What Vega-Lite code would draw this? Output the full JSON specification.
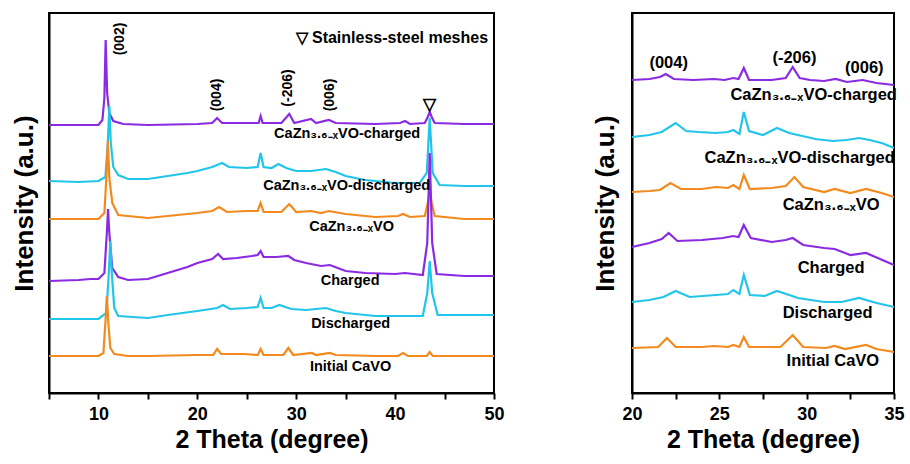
{
 "$schema": "https://vega.github.io/schema/vega-lite/v6.json",
 "padding": {"left": 10, "top": 12, "right": 12, "bottom": 4},
 "spacing": 85,
 "config": {
  "font": "Liberation Sans",
  "view": {"stroke": "black", "strokeWidth": 2},
  "axis": {"grid": false, "domainColor": "black", "domainWidth": 2, "tickColor": "black", "tickWidth": 2, "tickSize": 6,
   "labelFont": "Liberation Sans", "labelFontWeight": "bold", "labelFontSize": 18, "labelColor": "black",
   "titleFont": "Liberation Sans", "titleFontWeight": "bold", "titleColor": "black", "labelFlush": false, "labelOverlap": false},
  "text": {"font": "Liberation Sans", "fontWeight": "bold", "color": "black"}
 },
 "datasets": {
  "left": [
   {"s":"CaZn-charged","x":5,"y":268},{"s":"CaZn-charged","x":8,"y":268},{"s":"CaZn-charged","x":10,"y":268},{"s":"CaZn-charged","x":10.4,"y":273},{"s":"CaZn-charged","x":10.6,"y":295},{"s":"CaZn-charged","x":10.73,"y":353},{"s":"CaZn-charged","x":10.88,"y":300},{"s":"CaZn-charged","x":11.1,"y":280},{"s":"CaZn-charged","x":11.5,"y":272},{"s":"CaZn-charged","x":12.5,"y":269},{"s":"CaZn-charged","x":15,"y":268},{"s":"CaZn-charged","x":20,"y":269},{"s":"CaZn-charged","x":21.5,"y":270},{"s":"CaZn-charged","x":22,"y":275},{"s":"CaZn-charged","x":22.5,"y":270},{"s":"CaZn-charged","x":25,"y":270},{"s":"CaZn-charged","x":26.2,"y":270},{"s":"CaZn-charged","x":26.4,"y":277},{"s":"CaZn-charged","x":26.6,"y":270},{"s":"CaZn-charged","x":28.5,"y":270},{"s":"CaZn-charged","x":29.3,"y":279},{"s":"CaZn-charged","x":29.8,"y":270},{"s":"CaZn-charged","x":31.5,"y":274},{"s":"CaZn-charged","x":32,"y":270},{"s":"CaZn-charged","x":33.3,"y":273},{"s":"CaZn-charged","x":34,"y":270},{"s":"CaZn-charged","x":38,"y":269},{"s":"CaZn-charged","x":40.5,"y":270},{"s":"CaZn-charged","x":41,"y":272},{"s":"CaZn-charged","x":41.5,"y":269},{"s":"CaZn-charged","x":43,"y":270},{"s":"CaZn-charged","x":43.3,"y":276},{"s":"CaZn-charged","x":43.5,"y":281},{"s":"CaZn-charged","x":43.7,"y":276},{"s":"CaZn-charged","x":44,"y":270},{"s":"CaZn-charged","x":47,"y":269},{"s":"CaZn-charged","x":50,"y":269},

   {"s":"CaZn-discharged","x":5,"y":212},{"s":"CaZn-discharged","x":8,"y":211},{"s":"CaZn-discharged","x":10,"y":212},{"s":"CaZn-discharged","x":10.7,"y":216},{"s":"CaZn-discharged","x":10.95,"y":250},{"s":"CaZn-discharged","x":11.1,"y":287},{"s":"CaZn-discharged","x":11.25,"y":250},{"s":"CaZn-discharged","x":11.5,"y":226},{"s":"CaZn-discharged","x":12,"y":218},{"s":"CaZn-discharged","x":13,"y":214},{"s":"CaZn-discharged","x":15,"y":214},{"s":"CaZn-discharged","x":17,"y":217},{"s":"CaZn-discharged","x":19,"y":220},{"s":"CaZn-discharged","x":20,"y":222},{"s":"CaZn-discharged","x":21.5,"y":226},{"s":"CaZn-discharged","x":22.5,"y":230},{"s":"CaZn-discharged","x":23.2,"y":226},{"s":"CaZn-discharged","x":25,"y":225},{"s":"CaZn-discharged","x":26.1,"y":226},{"s":"CaZn-discharged","x":26.4,"y":240},{"s":"CaZn-discharged","x":26.7,"y":226},{"s":"CaZn-discharged","x":27.5,"y":225},{"s":"CaZn-discharged","x":28.2,"y":229},{"s":"CaZn-discharged","x":29,"y":225},{"s":"CaZn-discharged","x":30,"y":222},{"s":"CaZn-discharged","x":31.5,"y":222},{"s":"CaZn-discharged","x":33,"y":224},{"s":"CaZn-discharged","x":34,"y":221},{"s":"CaZn-discharged","x":35,"y":217},{"s":"CaZn-discharged","x":37,"y":213},{"s":"CaZn-discharged","x":40,"y":210},{"s":"CaZn-discharged","x":42.5,"y":210},{"s":"CaZn-discharged","x":43.2,"y":220},{"s":"CaZn-discharged","x":43.5,"y":275},{"s":"CaZn-discharged","x":43.8,"y":220},{"s":"CaZn-discharged","x":44.5,"y":208},{"s":"CaZn-discharged","x":47,"y":207},{"s":"CaZn-discharged","x":50,"y":207},

   {"s":"CaZn","x":5,"y":174},{"s":"CaZn","x":8,"y":174},{"s":"CaZn","x":10,"y":174},{"s":"CaZn","x":10.6,"y":180},{"s":"CaZn","x":10.8,"y":215},{"s":"CaZn","x":10.95,"y":252},{"s":"CaZn","x":11.1,"y":215},{"s":"CaZn","x":11.4,"y":190},{"s":"CaZn","x":12,"y":178},{"s":"CaZn","x":15,"y":175},{"s":"CaZn","x":18,"y":178},{"s":"CaZn","x":20,"y":180},{"s":"CaZn","x":21.5,"y":182},{"s":"CaZn","x":22.2,"y":186},{"s":"CaZn","x":23,"y":181},{"s":"CaZn","x":25,"y":182},{"s":"CaZn","x":26.1,"y":182},{"s":"CaZn","x":26.4,"y":190},{"s":"CaZn","x":26.7,"y":181},{"s":"CaZn","x":28.5,"y":181},{"s":"CaZn","x":29.3,"y":189},{"s":"CaZn","x":30,"y":181},{"s":"CaZn","x":31.5,"y":182},{"s":"CaZn","x":32.5,"y":180},{"s":"CaZn","x":33.3,"y":182},{"s":"CaZn","x":35,"y":179},{"s":"CaZn","x":38,"y":176},{"s":"CaZn","x":40.3,"y":177},{"s":"CaZn","x":40.8,"y":179},{"s":"CaZn","x":41.5,"y":176},{"s":"CaZn","x":43,"y":177},{"s":"CaZn","x":43.3,"y":190},{"s":"CaZn","x":43.5,"y":202},{"s":"CaZn","x":43.7,"y":190},{"s":"CaZn","x":44,"y":177},{"s":"CaZn","x":47,"y":174},{"s":"CaZn","x":50,"y":174},

   {"s":"Charged","x":5,"y":112},{"s":"Charged","x":8,"y":113},{"s":"Charged","x":9.2,"y":114},{"s":"Charged","x":10,"y":114},{"s":"Charged","x":10.6,"y":120},{"s":"Charged","x":10.85,"y":160},{"s":"Charged","x":10.97,"y":184},{"s":"Charged","x":11.1,"y":160},{"s":"Charged","x":11.4,"y":125},{"s":"Charged","x":12,"y":116},{"s":"Charged","x":13,"y":113},{"s":"Charged","x":15,"y":114},{"s":"Charged","x":17,"y":120},{"s":"Charged","x":19,"y":126},{"s":"Charged","x":20,"y":130},{"s":"Charged","x":21.5,"y":134},{"s":"Charged","x":22.1,"y":139},{"s":"Charged","x":22.6,"y":134},{"s":"Charged","x":24,"y":135},{"s":"Charged","x":25.5,"y":137},{"s":"Charged","x":26.1,"y":138},{"s":"Charged","x":26.4,"y":142},{"s":"Charged","x":26.7,"y":136},{"s":"Charged","x":28,"y":136},{"s":"Charged","x":29.2,"y":137},{"s":"Charged","x":29.8,"y":133},{"s":"Charged","x":31,"y":130},{"s":"Charged","x":32.5,"y":127},{"s":"Charged","x":33.4,"y":128},{"s":"Charged","x":34.2,"y":125},{"s":"Charged","x":35,"y":122},{"s":"Charged","x":37,"y":120},{"s":"Charged","x":40,"y":119},{"s":"Charged","x":41,"y":120},{"s":"Charged","x":42.8,"y":118},{"s":"Charged","x":43.25,"y":150},{"s":"Charged","x":43.5,"y":240},{"s":"Charged","x":43.75,"y":150},{"s":"Charged","x":44.2,"y":119},{"s":"Charged","x":47,"y":117},{"s":"Charged","x":50,"y":117},

   {"s":"Discharged","x":5,"y":74},{"s":"Discharged","x":8,"y":74},{"s":"Discharged","x":10,"y":74},{"s":"Discharged","x":10.8,"y":80},{"s":"Discharged","x":11.05,"y":120},{"s":"Discharged","x":11.2,"y":152},{"s":"Discharged","x":11.35,"y":120},{"s":"Discharged","x":11.6,"y":85},{"s":"Discharged","x":12,"y":77},{"s":"Discharged","x":15,"y":75},{"s":"Discharged","x":17,"y":78},{"s":"Discharged","x":20,"y":82},{"s":"Discharged","x":22,"y":85},{"s":"Discharged","x":22.6,"y":88},{"s":"Discharged","x":23.3,"y":84},{"s":"Discharged","x":25,"y":85},{"s":"Discharged","x":26.1,"y":86},{"s":"Discharged","x":26.4,"y":95},{"s":"Discharged","x":26.7,"y":85},{"s":"Discharged","x":27.5,"y":85},{"s":"Discharged","x":28.3,"y":88},{"s":"Discharged","x":29.5,"y":84},{"s":"Discharged","x":31,"y":83},{"s":"Discharged","x":33,"y":85},{"s":"Discharged","x":34,"y":82},{"s":"Discharged","x":35,"y":80},{"s":"Discharged","x":38,"y":77},{"s":"Discharged","x":40,"y":77},{"s":"Discharged","x":42.8,"y":77},{"s":"Discharged","x":43.25,"y":100},{"s":"Discharged","x":43.5,"y":132},{"s":"Discharged","x":43.75,"y":100},{"s":"Discharged","x":44.3,"y":78},{"s":"Discharged","x":47,"y":78},{"s":"Discharged","x":50,"y":78},

   {"s":"Initial","x":5,"y":37},{"s":"Initial","x":8,"y":37},{"s":"Initial","x":10,"y":37},{"s":"Initial","x":10.5,"y":40},{"s":"Initial","x":10.7,"y":70},{"s":"Initial","x":10.85,"y":97},{"s":"Initial","x":11,"y":70},{"s":"Initial","x":11.2,"y":45},{"s":"Initial","x":11.6,"y":39},{"s":"Initial","x":13,"y":37},{"s":"Initial","x":15,"y":37},{"s":"Initial","x":20,"y":38},{"s":"Initial","x":21.6,"y":38},{"s":"Initial","x":22,"y":44},{"s":"Initial","x":22.4,"y":39},{"s":"Initial","x":24.8,"y":39},{"s":"Initial","x":26.1,"y":38},{"s":"Initial","x":26.4,"y":44},{"s":"Initial","x":26.7,"y":38},{"s":"Initial","x":28.7,"y":38},{"s":"Initial","x":29.2,"y":45},{"s":"Initial","x":29.7,"y":38},{"s":"Initial","x":31.6,"y":40},{"s":"Initial","x":32,"y":38},{"s":"Initial","x":33.4,"y":40},{"s":"Initial","x":34,"y":38},{"s":"Initial","x":38,"y":37},{"s":"Initial","x":40.3,"y":37},{"s":"Initial","x":40.8,"y":40},{"s":"Initial","x":41.3,"y":37},{"s":"Initial","x":43.2,"y":37},{"s":"Initial","x":43.5,"y":41},{"s":"Initial","x":43.8,"y":37},{"s":"Initial","x":47,"y":37},{"s":"Initial","x":50,"y":37}
  ],
  "right": [
   {"s":"CaZn-charged","x":20,"y":313},{"s":"CaZn-charged","x":21,"y":314},{"s":"CaZn-charged","x":21.6,"y":316},{"s":"CaZn-charged","x":21.93,"y":319},{"s":"CaZn-charged","x":22.4,"y":314},{"s":"CaZn-charged","x":23.5,"y":313},{"s":"CaZn-charged","x":24.7,"y":314},{"s":"CaZn-charged","x":25.3,"y":313},{"s":"CaZn-charged","x":25.8,"y":315},{"s":"CaZn-charged","x":26.1,"y":314},{"s":"CaZn-charged","x":26.4,"y":325},{"s":"CaZn-charged","x":26.7,"y":313},{"s":"CaZn-charged","x":28,"y":313},{"s":"CaZn-charged","x":28.8,"y":315},{"s":"CaZn-charged","x":29.2,"y":326},{"s":"CaZn-charged","x":29.6,"y":315},{"s":"CaZn-charged","x":30.2,"y":313},{"s":"CaZn-charged","x":31,"y":312},{"s":"CaZn-charged","x":31.66,"y":314},{"s":"CaZn-charged","x":32.3,"y":311},{"s":"CaZn-charged","x":33.2,"y":313},{"s":"CaZn-charged","x":34,"y":310},{"s":"CaZn-charged","x":35,"y":308},

   {"s":"CaZn-discharged","x":20,"y":256},{"s":"CaZn-discharged","x":21,"y":258},{"s":"CaZn-discharged","x":21.7,"y":261},{"s":"CaZn-discharged","x":22.5,"y":270},{"s":"CaZn-discharged","x":23.1,"y":262},{"s":"CaZn-discharged","x":23.8,"y":261},{"s":"CaZn-discharged","x":24.8,"y":260},{"s":"CaZn-discharged","x":25.5,"y":261},{"s":"CaZn-discharged","x":25.8,"y":263},{"s":"CaZn-discharged","x":26.15,"y":259},{"s":"CaZn-discharged","x":26.4,"y":281},{"s":"CaZn-discharged","x":26.7,"y":262},{"s":"CaZn-discharged","x":27.5,"y":258},{"s":"CaZn-discharged","x":28.3,"y":265},{"s":"CaZn-discharged","x":29,"y":260},{"s":"CaZn-discharged","x":29.5,"y":258},{"s":"CaZn-discharged","x":30.5,"y":254},{"s":"CaZn-discharged","x":31.5,"y":252},{"s":"CaZn-discharged","x":32.3,"y":253},{"s":"CaZn-discharged","x":33,"y":255},{"s":"CaZn-discharged","x":33.6,"y":253},{"s":"CaZn-discharged","x":34.3,"y":250},{"s":"CaZn-discharged","x":35,"y":245},

   {"s":"CaZn","x":20,"y":201},{"s":"CaZn","x":21,"y":202},{"s":"CaZn","x":21.6,"y":203},{"s":"CaZn","x":22.2,"y":210},{"s":"CaZn","x":22.8,"y":204},{"s":"CaZn","x":24,"y":204},{"s":"CaZn","x":24.8,"y":206},{"s":"CaZn","x":25.5,"y":205},{"s":"CaZn","x":25.8,"y":208},{"s":"CaZn","x":26.15,"y":204},{"s":"CaZn","x":26.4,"y":218},{"s":"CaZn","x":26.75,"y":204},{"s":"CaZn","x":28,"y":205},{"s":"CaZn","x":28.8,"y":207},{"s":"CaZn","x":29.3,"y":216},{"s":"CaZn","x":29.8,"y":206},{"s":"CaZn","x":31,"y":201},{"s":"CaZn","x":31.6,"y":204},{"s":"CaZn","x":32.5,"y":200},{"s":"CaZn","x":33.4,"y":204},{"s":"CaZn","x":34.3,"y":200},{"s":"CaZn","x":35,"y":196},

   {"s":"Charged","x":20,"y":146},{"s":"Charged","x":21,"y":150},{"s":"Charged","x":21.7,"y":154},{"s":"Charged","x":22.1,"y":160},{"s":"Charged","x":22.6,"y":152},{"s":"Charged","x":24,"y":153},{"s":"Charged","x":25.2,"y":155},{"s":"Charged","x":25.8,"y":157},{"s":"Charged","x":26.1,"y":156},{"s":"Charged","x":26.4,"y":168},{"s":"Charged","x":26.8,"y":155},{"s":"Charged","x":28,"y":151},{"s":"Charged","x":28.8,"y":153},{"s":"Charged","x":29.2,"y":155},{"s":"Charged","x":29.8,"y":148},{"s":"Charged","x":31,"y":145},{"s":"Charged","x":31.6,"y":144},{"s":"Charged","x":32.5,"y":138},{"s":"Charged","x":33.4,"y":140},{"s":"Charged","x":34.2,"y":134},{"s":"Charged","x":35,"y":128},

   {"s":"Discharged","x":20,"y":91},{"s":"Discharged","x":21,"y":93},{"s":"Discharged","x":21.8,"y":96},{"s":"Discharged","x":22.5,"y":102},{"s":"Discharged","x":23.3,"y":96},{"s":"Discharged","x":24.8,"y":98},{"s":"Discharged","x":25.5,"y":99},{"s":"Discharged","x":25.8,"y":103},{"s":"Discharged","x":26.15,"y":99},{"s":"Discharged","x":26.4,"y":118},{"s":"Discharged","x":26.75,"y":98},{"s":"Discharged","x":27.6,"y":97},{"s":"Discharged","x":28.3,"y":102},{"s":"Discharged","x":29,"y":98},{"s":"Discharged","x":29.5,"y":95},{"s":"Discharged","x":31,"y":91},{"s":"Discharged","x":32,"y":91},{"s":"Discharged","x":33,"y":95},{"s":"Discharged","x":34,"y":90},{"s":"Discharged","x":35,"y":86},

   {"s":"Initial","x":20,"y":45},{"s":"Initial","x":21.5,"y":46},{"s":"Initial","x":22,"y":55},{"s":"Initial","x":22.5,"y":46},{"s":"Initial","x":24,"y":46},{"s":"Initial","x":24.7,"y":47},{"s":"Initial","x":25.5,"y":46},{"s":"Initial","x":25.8,"y":48},{"s":"Initial","x":26.15,"y":46},{"s":"Initial","x":26.4,"y":56},{"s":"Initial","x":26.7,"y":46},{"s":"Initial","x":28.5,"y":46},{"s":"Initial","x":29.2,"y":58},{"s":"Initial","x":29.8,"y":46},{"s":"Initial","x":31.1,"y":45},{"s":"Initial","x":31.6,"y":47},{"s":"Initial","x":32.2,"y":44},{"s":"Initial","x":33.4,"y":48},{"s":"Initial","x":34,"y":44},{"s":"Initial","x":35,"y":41}
  ],
  "leftLabels": [
   {"x":35.15,"y":259,"t":"CaZn₃.₆₋ₓVO-charged"},
   {"x":35.1,"y":207,"t":"CaZn₃.₆₋ₓVO-discharged"},
   {"x":35.6,"y":166,"t":"CaZn₃.₆₋ₓVO"},
   {"x":35.45,"y":112,"t":"Charged"},
   {"x":35.5,"y":69,"t":"Discharged"},
   {"x":35.5,"y":26,"t":"Initial CaVO"}
  ],
  "leftRot": [
   {"x":12.15,"y":354,"t":"(002)"},
   {"x":22.0,"y":298,"t":"(004)"},
   {"x":29.2,"y":305,"t":"(-206)"},
   {"x":33.4,"y":298,"t":"(006)"}
  ],
  "leftMarker": [
   {"x":43.5,"y":288,"t":"▽"}
  ],
  "leftNote": [
   {"x":49.4,"y":355,"t":"▽ Stainless-steel meshes"}
  ],
  "rightLabels": [
   {"x":22.1,"y":330,"t":"(004)"},
   {"x":29.3,"y":335,"t":"(-206)"},
   {"x":33.3,"y":325,"t":"(006)"},
   {"x":30.4,"y":298,"t":"CaZn₃.₆₋ₓVO-charged"},
   {"x":29.6,"y":235,"t":"CaZn₃.₆₋ₓVO-discharged"},
   {"x":31.4,"y":188,"t":"CaZn₃.₆₋ₓVO"},
   {"x":31.4,"y":125,"t":"Charged"},
   {"x":31.2,"y":80,"t":"Discharged"},
   {"x":31.5,"y":32,"t":"Initial CaVO"}
  ]
 },
 "hconcat": [
  {
   "width": 445, "height": 380,
   "encoding": {
    "x": {"field": "x", "type": "quantitative", "scale": {"domain": [5, 50], "nice": false, "zero": false},
     "axis": {"title": "2 Theta (degree)", "values": [5,10,15,20,25,30,35,40,45,50], "labelExpr": "datum.value % 10 === 0 ? datum.label : ''", "titleFontSize": 25, "labelPadding": 6, "titlePadding": 4}},
    "y": {"field": "y", "type": "quantitative", "scale": {"domain": [0, 380], "nice": false},
     "axis": {"title": "Intensity (a.u.)", "labels": false, "ticks": false, "titleFontSize": 26, "titlePadding": 12}}
   },
   "layer": [
    {"data": {"name": "left"}, "mark": {"type": "line", "strokeWidth": 2.2},
     "encoding": {"color": {"field": "s", "type": "nominal", "legend": null,
      "scale": {"domain": ["CaZn-charged","CaZn-discharged","CaZn","Charged","Discharged","Initial"], "range": ["#8a2be2","#22c5ea","#f28a1e","#8a2be2","#22c5ea","#f28a1e"]}}}},
    {"data": {"name": "leftLabels"}, "mark": {"type": "text", "fontSize": 14.5, "align": "center", "baseline": "middle"},
     "encoding": {"text": {"field": "t"}}},
    {"data": {"name": "leftRot"}, "mark": {"type": "text", "fontSize": 14, "angle": 270, "align": "center", "baseline": "middle"},
     "encoding": {"text": {"field": "t"}}},
    {"data": {"name": "leftMarker"}, "mark": {"type": "text", "fontSize": 17, "align": "center", "baseline": "middle"},
     "encoding": {"text": {"field": "t"}}},
    {"data": {"name": "leftNote"}, "mark": {"type": "text", "fontSize": 16, "align": "right", "baseline": "middle"},
     "encoding": {"text": {"field": "t"}}}
   ]
  },
  {
   "width": 262, "height": 380,
   "encoding": {
    "x": {"field": "x", "type": "quantitative", "scale": {"domain": [20, 35], "nice": false, "zero": false},
     "axis": {"title": "2 Theta (degree)", "values": [20,22.5,25,27.5,30,32.5,35], "labelExpr": "datum.value % 5 === 0 ? datum.label : ''", "titleFontSize": 25, "labelPadding": 6, "titlePadding": 4}},
    "y": {"field": "y", "type": "quantitative", "scale": {"domain": [0, 380], "nice": false},
     "axis": {"title": "Intensity (a.u.)", "labels": false, "ticks": false, "titleFontSize": 26, "titlePadding": 14}}
   },
   "layer": [
    {"data": {"name": "right"}, "mark": {"type": "line", "strokeWidth": 2.2},
     "encoding": {"color": {"field": "s", "type": "nominal", "legend": null,
      "scale": {"domain": ["CaZn-charged","CaZn-discharged","CaZn","Charged","Discharged","Initial"], "range": ["#8a2be2","#22c5ea","#f28a1e","#8a2be2","#22c5ea","#f28a1e"]}}}},
    {"data": {"name": "rightLabels"}, "mark": {"type": "text", "fontSize": 16.5, "align": "center", "baseline": "middle"},
     "encoding": {"text": {"field": "t"}}}
   ]
  }
 ]
}
